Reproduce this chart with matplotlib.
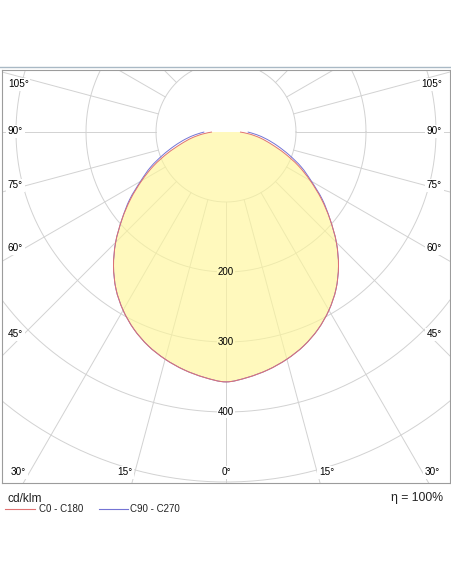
import numpy as np
import matplotlib
matplotlib.use("Agg")
import matplotlib.pyplot as plt
from matplotlib.lines import Line2D
from matplotlib.path import Path
from matplotlib.patches import PathPatch

plt.rcParams["font.family"] = ["Liberation Sans", "DejaVu Sans"]

# luminous intensity (cd/klm), gamma 0..90 deg in 5 deg steps
GAMMA = list(range(0, 95, 5))
I_C0_C180 = [357, 352, 345, 336, 325, 311, 294, 274, 250, 223,
             194, 166, 139, 114, 89, 67, 50, 34, 20]
I_C90_C270 = [357, 352, 345, 336, 325, 311, 294, 274, 250, 223,
              194, 168, 141, 119, 96, 76, 59, 44, 31]

RINGS = [100, 200, 300, 400, 500, 600]
RING_LABELS = [200, 300, 400]
SIDE_LABELS = ["105°", "90°", "75°", "60°", "45°", "30°"]
BOTTOM_LABELS = ["15°", "0°", "15°"]
PLANES = ["C0 - C180", "C90 - C270"]
EFFICIENCY = 100

W, H = 452, 584
CX, CY = 226, 132      # pixel position of the luminaire centre
SCALE = 0.7            # pixels per cd/klm
GRID = "#d2d2d2"
FILL = (1.0, 0.968, 0.6)
RED = "#e07272"
BLUE = "#7474d4"


def to_data(px, py):
    return (px - CX) / SCALE, (CY - py) / SCALE


def curve_path(values, close=False):
    # points of both half planes, drawn as a smooth (Catmull-Rom) bezier
    g = np.radians(GAMMA)
    v = np.asarray(values, dtype=float)
    x = np.concatenate([-v[::-1] * np.sin(g[::-1]), v[1:] * np.sin(g[1:])])
    y = np.concatenate([-v[::-1] * np.cos(g[::-1]), -v[1:] * np.cos(g[1:])])
    pts = np.column_stack([x, y])
    verts = [pts[0]]
    codes = [Path.MOVETO]
    n = len(pts)
    for i in range(n - 1):
        p0 = pts[max(i - 1, 0)]
        p1, p2 = pts[i], pts[i + 1]
        p3 = pts[min(i + 2, n - 1)]
        verts += [p1 + (p2 - p0) / 6, p2 - (p3 - p1) / 6, p2]
        codes += [Path.CURVE4] * 3
    if close:
        verts.append(pts[0])
        codes.append(Path.CLOSEPOLY)
    return Path(verts, codes)


fig = plt.figure(figsize=(W / 100, H / 100), dpi=100)
left, right, top, bottom = 2, 450, 69.5, 483
ax = fig.add_axes([left / W, 1 - bottom / H, (right - left) / W, (bottom - top) / H])
x0, y0 = to_data(left, top)
x1, y1 = to_data(right, bottom)
ax.set_xlim(x0, x1)
ax.set_ylim(y1, y0)
ax.set_xticks([])
ax.set_yticks([])
for sp in ax.spines.values():
    sp.set_color("#9c9c9c")
    sp.set_linewidth(0.8)

# polar grid
t = np.linspace(0, 2 * np.pi, 400)
for r in RINGS:
    ax.plot(r * np.cos(t), r * np.sin(t), color=GRID, lw=0.7, zorder=1)
for a in range(0, 360, 15):
    ar = np.radians(a)
    ax.plot([RINGS[0] * np.sin(ar), 900 * np.sin(ar)],
            [-RINGS[0] * np.cos(ar), -900 * np.cos(ar)],
            color=GRID, lw=0.7, zorder=1)

# distribution curves
ax.add_patch(PathPatch(curve_path(I_C0_C180, close=True), fc=FILL, alpha=0.64,
                       ec="none", zorder=2))
ax.add_patch(PathPatch(curve_path(I_C90_C270), fc="none", ec=BLUE, lw=0.7, zorder=3))
ax.add_patch(PathPatch(curve_path(I_C0_C180), fc="none", ec=RED, lw=0.7, zorder=3))

# ring values on the 0 deg axis
for val in RING_LABELS:
    inside = val < I_C0_C180[0]
    bg = "#fffabe" if inside else "white"
    ax.text(0, -val, str(val), fontsize=7, ha="center", va="center", zorder=5,
            bbox=dict(boxstyle="square,pad=0.12", fc=bg, ec="none"))

# angle labels along the frame
side_y = [84, 131.5, 185, 248.3, 334.3, 472.3]
for lab, py in zip(SIDE_LABELS, side_y):
    lx = 11 if lab == "30°" else 8
    rx = 440 if lab == "30°" else 442
    for px, ha in ((lx, "left"), (rx, "right")):
        ax.text(*to_data(px, py), lab, fontsize=7.2, ha=ha, va="center", zorder=5,
                bbox=dict(boxstyle="square,pad=0.15", fc="white", ec="none"))
for lab, px in zip(BOTTOM_LABELS, [125, 226, 326.5]):
    ax.text(*to_data(px, 472.3), lab, fontsize=7.2, ha="center", va="center", zorder=5,
            bbox=dict(boxstyle="square,pad=0.15", fc="white", ec="none"))

# header line and footer texts
fig.add_artist(Line2D([0, 1], [1 - 67.3 / H] * 2, color="#a9b9c5", lw=1.0))
fig.text(8 / W, 1 - 501.5 / H, "cd/klm", fontsize=8.6, ha="left", va="baseline", color="#222222")
fig.text(443 / W, 1 - 500.7 / H, f"η = {EFFICIENCY}%", fontsize=8.8, ha="right",
         va="baseline", color="#222222")
for (x_a, x_b, x_t), name, col in zip([(5, 35, 39), (99, 128, 130)], PLANES, [RED, BLUE]):
    fig.add_artist(Line2D([x_a / W, x_b / W], [1 - 509.3 / H] * 2, color=col, lw=0.8))
    fig.text(x_t / W, 1 - 512.3 / H, name, fontsize=7, ha="left", va="baseline", color="#222222")

fig.savefig("out.png", dpi=100)
plt.close(fig)
